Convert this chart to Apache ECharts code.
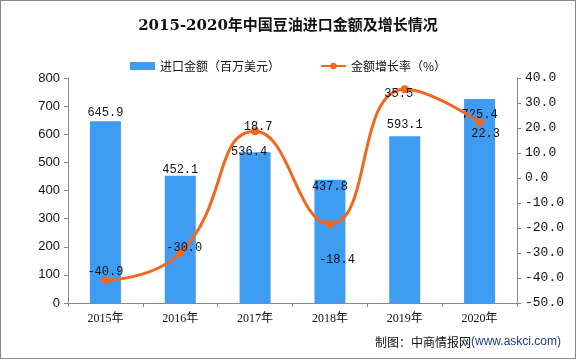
<!DOCTYPE html>
<html><head><meta charset="utf-8">
<script src="https://cdn.jsdelivr.net/npm/echarts@6/dist/echarts.min.js"></script>
<style>html,body{margin:0;padding:0;background:#fff}#c{width:576px;height:359px;box-sizing:border-box;border:1px solid #888}</style>
</head><body><div id="c"></div>
<script>
var categories = ['2015年','2016年','2017年','2018年','2019年','2020年'];
var importValue = [645.9, 452.1, 536.4, 437.8, 593.1, 725.4];
var growthRate = [-40.9, -30.0, 18.7, -18.4, 35.5, 22.3];
var barLabelOffset = [[0,0],[0,3],[-6,9],[0,16],[0,-2],[0,25]];
var lineLabelOffset = [[0,-8],[4,-5],[3,-4],[7,36],[-6,5],[6,12]];

var chart = echarts.init(document.getElementById('c'));
var serif = '"Liberation Serif","Noto Sans CJK SC",serif';
var mono = '"Liberation Mono","DejaVu Sans Mono",monospace';
chart.setOption({
  animation:false,
  title:{text:'2015-2020年中国豆油进口金额及增长情况',left:'center',top:13,
    textStyle:{fontSize:15,fontWeight:'bold',color:'#111',fontFamily:'"DejaVu Serif","Noto Sans CJK SC",serif'}},
  legend:{top:54,left:'center',itemGap:40,itemWidth:25,itemHeight:8,
    textStyle:{fontSize:12,color:'#111',fontFamily:'"Noto Sans CJK SC",sans-serif'},
    data:[{name:'进口金额（百万美元）',icon:'rect'},{name:'金额增长率（%）'}]},
  grid:{left:67,right:58,top:77,bottom:55},
  xAxis:{type:'category',data:categories,
    axisLine:{lineStyle:{color:'#888'}},axisTick:{show:true,length:4,lineStyle:{color:'#888'}},
    axisLabel:{color:'#111',fontSize:12,margin:10,fontFamily:serif}},
  yAxis:[
    {type:'value',min:0,max:800,interval:100,splitLine:{show:false},
     axisLine:{show:true,lineStyle:{color:'#888'}},axisTick:{show:true,length:4,lineStyle:{color:'#888'}},
     axisLabel:{color:'#111',fontSize:13,fontFamily:'"Liberation Sans",Arial,sans-serif'}},
    {type:'value',min:-50,max:40,interval:10,splitLine:{show:false},
     axisLine:{show:true,lineStyle:{color:'#888'}},axisTick:{show:true,length:4,lineStyle:{color:'#888'}},
     axisLabel:{color:'#111',fontSize:13,fontFamily:mono,
       formatter:function(v){return v.toFixed(1);}}}
  ],
  series:[
    {name:'进口金额（百万美元）',type:'bar',barWidth:31,
     data:importValue.map(function(v,i){return {value:v,label:{offset:barLabelOffset[i]}};}),
     itemStyle:{color:'#3E9CF2'},
     label:{show:true,position:'top',color:'#111',fontSize:12,fontFamily:mono,distance:3}},
    {name:'金额增长率（%）',type:'line',yAxisIndex:1,smooth:true,z:5,
     data:growthRate.map(function(v,i){return {value:v,label:{offset:lineLabelOffset[i]}};}),
     symbol:'circle',symbolSize:8,
     lineStyle:{color:'#F4661B',width:3},itemStyle:{color:'#F4661B'},
     label:{show:true,position:'inside',color:'#111',fontSize:12,fontFamily:mono,
       formatter:function(p){return p.value.toFixed(1);}}}
  ],
  graphic:[{type:'text',right:14,bottom:10,style:{
    rich:{a:{fontSize:12,fill:'#111',fontFamily:'"Noto Sans CJK SC",sans-serif'},b:{fontSize:12,fill:'#1F3A8C',fontFamily:'"Liberation Sans",sans-serif'}},
    text:'{a|制图：中商情报网}{b|(www.askci.com)}'}}]
});
</script></body></html>
